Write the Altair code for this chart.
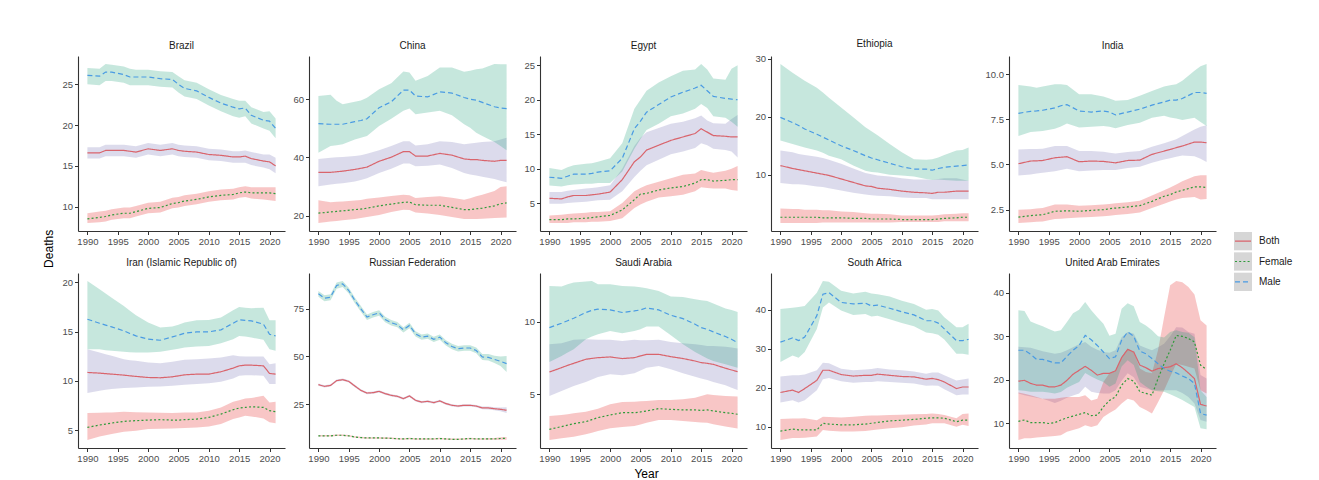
import altair as alt
import pandas as pd

YEARS_G = [1990, 1992, 1993, 1994, 1996, 1997, 1998, 2000, 2002, 2004, 2005,
           2006, 2008, 2010, 2012, 2014, 2015, 2016, 2017, 2019, 2020, 2021]
YEARS_ALL = list(range(1990, 2022))
SEXES = ["Both", "Female", "Male"]
X_TICKS = [1990, 1995, 2000, 2005, 2010, 2015, 2020]

# ---------------- Brazil ----------------
BRA_M = [26.1, 26.0, 26.5, 26.5, 26.2, 25.9, 25.9, 25.9, 25.7, 25.6, 25.0, 24.5, 24.2, 23.4, 22.7, 22.2, 22.0, 22.1, 21.2, 20.6, 20.5, 19.6]
BRA_M_HI = [27.0, 26.9, 27.5, 27.4, 27.2, 26.9, 26.8, 26.8, 26.6, 26.5, 26.0, 25.5, 25.2, 24.4, 23.7, 23.2, 23.0, 23.0, 22.2, 21.6, 21.7, 20.8]
BRA_M_LO = [25.0, 24.9, 25.4, 25.4, 25.2, 24.9, 24.9, 24.9, 24.7, 24.6, 24.0, 23.5, 23.2, 22.4, 21.7, 21.1, 20.9, 21.1, 20.2, 19.6, 19.3, 18.4]
BRA_B = [16.6, 16.6, 16.9, 16.9, 16.9, 16.8, 16.7, 17.1, 16.9, 17.1, 16.9, 16.8, 16.7, 16.4, 16.3, 16.1, 16.1, 16.2, 15.9, 15.6, 15.5, 15.0]
BRA_B_HI = [17.3, 17.3, 17.6, 17.6, 17.6, 17.5, 17.4, 17.8, 17.6, 17.8, 17.6, 17.5, 17.4, 17.1, 17.0, 16.8, 16.8, 16.9, 16.7, 16.4, 16.4, 16.0]
BRA_B_LO = [15.9, 15.9, 16.2, 16.2, 16.2, 16.1, 16.0, 16.4, 16.2, 16.4, 16.2, 16.1, 16.0, 15.7, 15.6, 15.4, 15.4, 15.4, 15.1, 14.8, 14.6, 14.1]
BRA_F = [8.5, 8.7, 8.8, 9.0, 9.2, 9.2, 9.4, 9.8, 9.9, 10.4, 10.5, 10.7, 10.9, 11.2, 11.4, 11.5, 11.7, 11.8, 11.7, 11.7, 11.7, 11.6]
BRA_F_HI = [9.2, 9.4, 9.5, 9.7, 9.9, 9.9, 10.1, 10.5, 10.6, 11.1, 11.2, 11.4, 11.6, 11.9, 12.1, 12.2, 12.4, 12.5, 12.4, 12.4, 12.4, 12.4]
BRA_F_LO = [8.0, 8.1, 8.2, 8.4, 8.6, 8.6, 8.8, 9.2, 9.3, 9.8, 9.9, 10.1, 10.3, 10.6, 10.8, 10.9, 11.1, 11.2, 11.0, 10.9, 10.8, 10.7]

# ---------------- China ----------------
CHN_M = [51.6, 51.4, 51.4, 51.4, 52.3, 52.7, 53.3, 57.1, 59.1, 63.1, 63.1, 61.1, 60.8, 62.5, 62.1, 60.6, 60.0, 59.7, 58.9, 57.4, 57.0, 56.8]
CHN_M_HI = [61.1, 61.5, 59.5, 58.3, 59.1, 59.6, 60.5, 63.4, 65.5, 69.5, 69.2, 66.3, 68.0, 70.9, 70.9, 69.4, 69.8, 70.3, 70.5, 72.1, 72.0, 72.0]
CHN_M_LO = [41.6, 43.9, 44.2, 44.5, 46.2, 46.8, 47.4, 50.8, 53.3, 56.0, 56.8, 54.8, 55.4, 56.0, 54.5, 51.4, 50.2, 48.5, 47.4, 45.3, 43.9, 42.5]
CHN_B = [34.9, 34.9, 35.1, 35.3, 35.9, 36.3, 36.7, 38.7, 40.1, 42.0, 42.0, 40.5, 40.5, 41.4, 40.8, 39.5, 39.3, 39.3, 39.0, 38.7, 39.0, 39.0]
CHN_B_HI = [39.5, 39.9, 40.1, 40.2, 40.5, 40.8, 41.3, 42.5, 43.9, 45.6, 45.6, 44.1, 44.5, 45.6, 45.3, 44.5, 44.8, 45.1, 45.3, 45.6, 46.2, 46.8]
CHN_B_LO = [30.1, 30.7, 31.0, 31.2, 31.8, 32.3, 32.9, 34.7, 36.1, 37.9, 37.9, 37.0, 37.2, 37.6, 36.4, 34.7, 34.2, 33.8, 33.4, 32.6, 32.0, 31.5]
CHN_F = [20.9, 21.3, 21.5, 21.7, 22.1, 22.3, 22.6, 23.4, 24.0, 24.6, 24.7, 23.8, 23.6, 23.6, 22.9, 22.1, 22.1, 22.4, 22.6, 23.4, 24.1, 24.4]
CHN_F_HI = [25.3, 24.6, 24.8, 24.9, 25.2, 25.4, 25.8, 26.3, 26.8, 27.2, 27.0, 26.1, 26.4, 26.7, 26.2, 25.5, 26.0, 26.7, 27.2, 28.5, 29.9, 30.1]
CHN_F_LO = [17.5, 18.0, 18.2, 18.5, 18.9, 19.2, 19.6, 20.3, 21.3, 22.1, 22.0, 21.1, 20.8, 20.3, 19.6, 18.9, 18.9, 18.9, 19.0, 19.2, 19.3, 19.4]

# ---------------- Egypt ----------------
EGY_M = [8.75, 8.6, 8.9, 9.2, 9.2, 9.3, 9.5, 9.7, 11.5, 15.8, 16.9, 18.2, 19.3, 20.4, 21.1, 21.7, 22.1, 21.3, 20.5, 20.2, 20.1, 20.0]
EGY_M_HI = [10.1, 9.8, 10.2, 10.5, 10.7, 10.8, 11.0, 11.5, 13.7, 18.7, 20.0, 21.3, 22.5, 23.4, 24.2, 24.4, 25.2, 24.4, 23.1, 22.9, 24.5, 25.0]
EGY_M_LO = [7.55, 7.4, 7.6, 7.7, 7.8, 7.8, 7.9, 7.9, 9.6, 12.9, 14.3, 15.6, 16.5, 17.6, 18.0, 18.7, 19.4, 18.8, 17.6, 17.4, 16.8, 16.1]
EGY_B = [5.7, 5.6, 5.9, 6.1, 6.1, 6.2, 6.3, 6.6, 8.4, 11.0, 11.7, 12.7, 13.4, 14.1, 14.6, 15.1, 15.8, 15.3, 14.8, 14.7, 14.6, 14.6]
EGY_B_HI = [6.6, 6.6, 6.8, 6.9, 7.1, 7.2, 7.3, 7.6, 10.0, 13.3, 14.5, 15.3, 15.9, 16.5, 16.8, 17.3, 17.7, 17.0, 16.6, 16.5, 17.2, 17.8]
EGY_B_LO = [4.9, 4.9, 5.0, 5.1, 5.2, 5.3, 5.4, 5.5, 6.7, 8.8, 9.7, 10.5, 11.3, 12.1, 12.5, 13.0, 13.7, 13.4, 12.9, 12.7, 12.5, 11.6]
EGY_F = [2.6, 2.6, 2.7, 2.7, 2.8, 2.9, 3.0, 3.2, 4.0, 5.5, 6.3, 6.4, 6.9, 7.2, 7.4, 7.9, 8.4, 8.4, 8.2, 8.3, 8.4, 8.4]
EGY_F_HI = [3.2, 3.3, 3.4, 3.5, 3.6, 3.7, 3.7, 3.8, 5.0, 6.7, 7.2, 7.6, 8.1, 8.6, 9.1, 9.3, 9.8, 9.6, 9.4, 9.7, 10.0, 10.4]
EGY_F_LO = [2.1, 2.1, 2.1, 2.2, 2.2, 2.3, 2.3, 2.4, 2.8, 4.3, 4.8, 5.2, 5.8, 6.0, 6.2, 6.7, 7.3, 7.2, 7.1, 7.1, 6.9, 6.8]

# ---------------- Ethiopia ----------------
ETH_M = [19.9, 19.0, 18.5, 17.9, 17.0, 16.5, 16.0, 15.0, 14.2, 13.3, 12.9, 12.6, 12.0, 11.4, 11.0, 11.0, 10.8, 11.1, 11.3, 11.5, 11.6, 11.7]
ETH_M_HI = [29.1, 27.6, 26.9, 26.2, 25.0, 24.2, 23.3, 21.6, 19.9, 18.2, 17.5, 16.8, 15.3, 13.9, 12.7, 12.6, 12.7, 13.0, 13.4, 14.2, 14.3, 14.7]
ETH_M_LO = [15.9, 15.3, 15.0, 14.7, 14.2, 13.8, 13.3, 12.7, 11.6, 10.7, 10.5, 10.4, 10.0, 9.9, 9.7, 9.3, 9.1, 9.2, 9.1, 9.0, 9.0, 9.0]
ETH_B = [11.6, 11.1, 10.9, 10.7, 10.3, 10.1, 9.9, 9.3, 8.7, 8.1, 8.0, 7.7, 7.5, 7.2, 7.0, 6.9, 6.8, 7.0, 7.0, 7.2, 7.2, 7.2]
ETH_B_HI = [14.2, 13.9, 13.6, 13.4, 13.1, 12.9, 12.6, 11.9, 11.1, 10.3, 10.1, 9.9, 9.7, 9.4, 9.2, 9.2, 9.1, 9.3, 9.4, 9.4, 9.2, 9.0]
ETH_B_LO = [8.6, 8.4, 8.4, 8.3, 8.0, 7.9, 7.7, 7.3, 6.9, 6.6, 6.5, 6.4, 6.3, 6.1, 6.0, 6.0, 5.8, 5.8, 5.8, 5.8, 5.8, 5.8]
ETH_F = [2.7, 2.7, 2.7, 2.7, 2.7, 2.6, 2.6, 2.6, 2.5, 2.5, 2.4, 2.4, 2.4, 2.3, 2.3, 2.3, 2.3, 2.4, 2.5, 2.6, 2.7, 2.7]
ETH_F_HI = [4.2, 4.1, 4.1, 4.0, 4.0, 3.9, 3.9, 3.7, 3.6, 3.4, 3.3, 3.3, 3.2, 3.0, 3.0, 3.0, 3.0, 3.1, 3.2, 3.3, 3.4, 3.4]
ETH_F_LO = [1.7, 1.7, 1.7, 1.7, 1.7, 1.8, 1.8, 1.8, 1.8, 1.8, 1.8, 1.8, 1.8, 1.9, 1.9, 1.9, 1.9, 1.9, 2.0, 2.0, 2.0, 2.0]

# ---------------- India ----------------
IND_M = [7.83, 7.94, 7.96, 8.0, 8.13, 8.25, 8.31, 7.96, 7.9, 7.96, 7.9, 7.74, 7.9, 8.06, 8.28, 8.46, 8.56, 8.56, 8.65, 8.98, 8.98, 8.93]
IND_M_HI = [9.39, 9.31, 9.25, 9.31, 9.44, 9.44, 9.39, 8.89, 8.89, 8.76, 8.65, 8.52, 8.57, 8.8, 9.07, 9.31, 9.38, 9.44, 9.63, 10.19, 10.43, 10.56]
IND_M_LO = [6.57, 6.8, 6.82, 6.85, 6.98, 7.1, 7.26, 7.04, 7.09, 7.13, 7.08, 7.0, 7.19, 7.31, 7.59, 7.69, 7.6, 7.54, 7.46, 7.59, 7.35, 7.13]
IND_B = [5.04, 5.19, 5.2, 5.22, 5.37, 5.4, 5.43, 5.15, 5.19, 5.17, 5.13, 5.09, 5.22, 5.24, 5.56, 5.74, 5.83, 5.93, 6.02, 6.24, 6.24, 6.2]
IND_B_HI = [5.83, 5.85, 5.86, 5.87, 6.02, 6.02, 6.02, 5.74, 5.74, 5.7, 5.65, 5.61, 5.69, 5.74, 5.98, 6.17, 6.28, 6.39, 6.57, 6.94, 7.09, 7.17]
IND_B_LO = [4.39, 4.45, 4.5, 4.54, 4.63, 4.7, 4.76, 4.63, 4.66, 4.69, 4.69, 4.69, 4.81, 4.87, 5.09, 5.28, 5.35, 5.43, 5.5, 5.46, 5.31, 5.13]
IND_F = [2.09, 2.17, 2.2, 2.22, 2.41, 2.42, 2.44, 2.41, 2.46, 2.5, 2.55, 2.59, 2.65, 2.72, 2.96, 3.24, 3.33, 3.48, 3.57, 3.76, 3.76, 3.72]
IND_F_HI = [2.5, 2.53, 2.56, 2.59, 2.78, 2.78, 2.78, 2.72, 2.75, 2.78, 2.82, 2.86, 2.91, 3.0, 3.28, 3.57, 3.73, 3.89, 4.07, 4.35, 4.41, 4.41]
IND_F_LO = [1.76, 1.8, 1.83, 1.85, 1.98, 2.0, 2.02, 2.07, 2.1, 2.13, 2.17, 2.2, 2.26, 2.35, 2.59, 2.83, 2.95, 3.06, 3.15, 3.2, 3.06, 3.09]

# ---------------- Iran ----------------
IRN_M = [16.25, 15.84, 15.65, 15.47, 15.07, 14.8, 14.56, 14.23, 14.12, 14.46, 14.63, 14.83, 14.97, 14.97, 15.17, 15.84, 16.18, 16.14, 16.08, 15.74, 14.73, 14.56]
IRN_M_HI = [20.12, 19.28, 18.85, 18.43, 17.59, 17.1, 16.65, 15.91, 15.4, 15.5, 15.7, 15.91, 16.14, 16.18, 16.41, 17.15, 17.49, 17.42, 17.36, 17.42, 16.14, 16.14]
IRN_M_LO = [13.22, 13.22, 13.1, 13.05, 12.95, 12.9, 12.88, 12.88, 12.95, 13.15, 13.25, 13.38, 13.48, 13.55, 13.82, 14.23, 14.56, 14.49, 14.39, 14.16, 13.22, 13.05]
IRN_B = [10.86, 10.79, 10.74, 10.69, 10.59, 10.52, 10.46, 10.35, 10.32, 10.42, 10.52, 10.62, 10.69, 10.69, 10.93, 11.3, 11.53, 11.6, 11.6, 11.53, 10.76, 10.69]
IRN_B_HI = [13.22, 12.88, 12.7, 12.54, 12.2, 12.1, 12.04, 11.87, 11.8, 11.94, 12.04, 12.14, 12.2, 12.27, 12.37, 12.6, 12.5, 12.47, 12.47, 12.47, 11.7, 11.8]
IRN_B_LO = [8.77, 9.01, 9.1, 9.18, 9.28, 9.3, 9.34, 9.41, 9.44, 9.51, 9.56, 9.61, 9.68, 9.78, 9.92, 10.25, 10.52, 10.59, 10.59, 10.52, 9.68, 9.68]
IRN_F = [5.3, 5.54, 5.64, 5.74, 5.91, 5.95, 5.98, 6.04, 6.08, 6.04, 6.04, 6.08, 6.14, 6.31, 6.65, 7.09, 7.26, 7.32, 7.39, 7.32, 6.99, 6.89]
IRN_F_HI = [6.75, 6.78, 6.8, 6.82, 6.89, 6.86, 6.84, 6.82, 6.78, 6.75, 6.78, 6.8, 6.82, 6.99, 7.32, 7.9, 8.06, 8.23, 8.27, 8.5, 7.83, 7.9]
IRN_F_LO = [4.02, 4.39, 4.5, 4.63, 4.87, 4.92, 4.97, 5.13, 5.17, 5.2, 5.22, 5.25, 5.3, 5.4, 5.64, 6.14, 6.31, 6.48, 6.41, 6.21, 5.81, 5.71]

# ---------------- Russian Federation (every year) ----------------
RUS_M = [82.8, 80.5, 81.0, 87.1, 88.0, 84.5, 79.3, 74.9, 70.6, 71.8, 72.8, 69.3, 67.6, 66.6, 63.9, 66.2, 61.8, 60.1, 60.6, 58.9, 60.1, 57.1, 55.2, 54.0, 54.4, 54.4, 53.1, 49.7, 49.5, 48.4, 47.4, 46.2]
RUS_M_HI = [84.3, 82.0, 82.5, 88.7, 89.5, 86.0, 80.8, 76.4, 72.0, 73.2, 74.2, 70.7, 69.0, 68.0, 65.3, 67.6, 63.2, 61.5, 62.0, 60.3, 61.5, 58.5, 56.6, 55.4, 55.8, 55.9, 54.6, 51.3, 51.2, 50.4, 49.9, 50.2]
RUS_M_LO = [81.2, 78.9, 79.4, 85.4, 86.4, 82.9, 77.8, 73.4, 69.1, 70.3, 71.3, 67.9, 66.2, 65.2, 62.5, 64.8, 60.4, 58.7, 59.2, 57.5, 58.7, 55.7, 53.8, 52.6, 53.0, 52.9, 51.6, 48.1, 47.8, 46.5, 45.0, 41.8]
RUS_B = [35.2, 34.3, 34.8, 37.3, 37.8, 36.9, 34.5, 32.2, 30.8, 31.0, 31.7, 30.5, 29.6, 29.1, 27.9, 29.3, 27.0, 26.1, 26.5, 25.8, 26.7, 25.3, 24.4, 24.0, 24.4, 24.4, 24.0, 23.0, 23.0, 22.6, 22.3, 21.8]
RUS_B_HI = [35.8, 34.9, 35.4, 37.9, 38.4, 37.5, 35.1, 32.8, 31.4, 31.6, 32.3, 31.1, 30.2, 29.7, 28.5, 29.9, 27.6, 26.7, 27.1, 26.4, 27.3, 25.9, 25.0, 24.6, 25.0, 25.0, 24.6, 23.7, 23.7, 23.4, 23.3, 23.4]
RUS_B_LO = [34.6, 33.7, 34.2, 36.7, 37.2, 36.3, 33.9, 31.6, 30.2, 30.4, 31.1, 29.9, 29.0, 28.5, 27.3, 28.7, 26.4, 25.5, 25.9, 25.2, 26.1, 24.7, 23.8, 23.4, 23.8, 23.8, 23.4, 22.3, 22.2, 21.8, 21.3, 20.3]
RUS_F = [8.4, 8.4, 8.4, 8.7, 8.7, 8.4, 7.8, 7.5, 7.3, 7.3, 7.3, 7.2, 7.1, 6.9, 6.8, 7.0, 6.8, 6.8, 6.8, 6.8, 7.0, 6.8, 6.6, 6.6, 6.8, 7.0, 6.8, 6.8, 6.8, 6.8, 7.0, 7.1]
RUS_F_HI = [8.8, 8.8, 8.8, 9.1, 9.1, 8.8, 8.2, 7.9, 7.7, 7.7, 7.7, 7.6, 7.5, 7.3, 7.2, 7.4, 7.2, 7.2, 7.2, 7.2, 7.4, 7.2, 7.0, 7.0, 7.2, 7.4, 7.2, 7.2, 7.3, 7.3, 7.6, 7.8]
RUS_F_LO = [8.0, 8.0, 8.0, 8.3, 8.3, 8.0, 7.4, 7.1, 6.9, 6.9, 6.9, 6.8, 6.7, 6.5, 6.4, 6.6, 6.4, 6.4, 6.4, 6.4, 6.6, 6.4, 6.2, 6.2, 6.4, 6.6, 6.4, 6.4, 6.3, 6.3, 6.4, 6.4]

# ---------------- Saudi Arabia ----------------
SAU_M = [9.61, 9.91, 10.08, 10.25, 10.65, 10.8, 10.88, 10.83, 10.65, 10.76, 10.83, 10.97, 10.83, 10.46, 10.23, 9.84, 9.61, 9.49, 9.31, 8.99, 8.8, 8.57]
SAU_M_HI = [12.49, 12.44, 12.6, 12.72, 12.79, 12.83, 12.6, 12.6, 12.49, 12.44, 12.4, 12.33, 12.14, 11.75, 11.73, 11.57, 11.5, 11.45, 11.27, 10.92, 10.83, 10.69]
SAU_M_LO = [7.24, 7.65, 7.88, 8.11, 8.8, 9.0, 9.15, 9.38, 9.22, 9.38, 9.5, 9.68, 9.68, 9.08, 8.46, 7.93, 7.7, 7.47, 7.3, 7.07, 6.96, 6.84]
SAU_B = [6.54, 6.84, 7.0, 7.14, 7.42, 7.48, 7.53, 7.58, 7.47, 7.53, 7.65, 7.76, 7.76, 7.6, 7.47, 7.3, 7.19, 7.14, 7.07, 6.8, 6.68, 6.57]
SAU_B_HI = [8.46, 8.53, 8.65, 8.76, 8.8, 8.78, 8.76, 8.76, 8.69, 8.76, 8.74, 8.73, 8.76, 8.62, 8.53, 8.46, 8.4, 8.34, 8.34, 8.29, 8.23, 8.16]
SAU_B_LO = [4.88, 5.23, 5.4, 5.58, 5.85, 6.03, 6.2, 6.38, 6.31, 6.45, 6.65, 6.84, 6.96, 6.73, 6.45, 6.22, 6.1, 5.99, 5.85, 5.62, 5.46, 5.3]
SAU_F = [2.58, 2.77, 2.87, 2.97, 3.11, 3.25, 3.39, 3.57, 3.73, 3.73, 3.78, 3.85, 4.01, 3.96, 3.92, 3.92, 3.89, 3.92, 3.85, 3.73, 3.69, 3.62]
SAU_F_HI = [3.5, 3.57, 3.63, 3.69, 3.8, 3.9, 4.01, 4.31, 4.47, 4.49, 4.52, 4.54, 4.61, 4.61, 4.65, 4.77, 4.88, 5.0, 4.95, 4.88, 4.86, 4.84]
SAU_F_LO = [1.84, 1.96, 2.01, 2.07, 2.24, 2.35, 2.47, 2.65, 2.74, 2.81, 2.92, 3.04, 3.23, 3.23, 3.16, 3.09, 3.06, 3.04, 2.93, 2.77, 2.7, 2.63]

# ---------------- South Africa ----------------
ZAF_M = [31.7, 32.8, 32.1, 33.0, 38.5, 44.0, 44.4, 41.9, 41.5, 41.7, 41.0, 41.2, 40.4, 39.5, 38.7, 37.2, 37.2, 36.6, 35.1, 32.1, 32.1, 32.4]
ZAF_M_HI = [40.2, 40.5, 40.7, 41.0, 44.4, 47.4, 47.2, 44.9, 44.2, 44.6, 44.2, 44.0, 43.4, 42.3, 41.5, 40.0, 40.2, 39.8, 38.1, 35.5, 35.5, 36.4]
ZAF_M_LO = [26.6, 28.3, 27.7, 29.2, 35.1, 40.6, 41.9, 39.8, 38.7, 38.9, 38.3, 38.5, 37.6, 36.6, 35.8, 34.2, 34.0, 33.6, 32.4, 28.7, 28.7, 28.5]
ZAF_B = [18.8, 19.4, 18.8, 19.8, 21.9, 24.5, 24.5, 23.4, 23.0, 23.2, 23.2, 23.5, 23.2, 22.9, 22.8, 22.2, 22.4, 22.1, 21.5, 19.8, 20.2, 20.2]
ZAF_B_HI = [22.9, 23.2, 23.2, 23.4, 24.5, 26.4, 26.3, 24.9, 24.5, 24.7, 24.8, 25.1, 24.7, 24.5, 24.2, 23.6, 23.9, 23.9, 23.2, 21.9, 22.1, 22.4]
ZAF_B_LO = [16.2, 16.8, 16.2, 16.8, 19.4, 22.2, 22.5, 21.7, 21.3, 21.5, 21.5, 21.7, 21.5, 21.3, 21.1, 20.5, 20.6, 20.5, 19.6, 18.1, 18.3, 18.3]
ZAF_F = [8.9, 9.4, 9.2, 9.2, 9.2, 10.9, 10.7, 10.5, 10.5, 10.7, 10.9, 11.1, 11.5, 11.7, 11.9, 12.2, 12.3, 12.3, 12.2, 11.3, 11.7, 11.7]
ZAF_F_HI = [12.0, 12.1, 12.1, 12.2, 11.7, 12.6, 12.5, 12.4, 12.6, 12.8, 12.9, 12.9, 13.0, 13.1, 13.2, 13.3, 13.4, 13.3, 13.0, 12.2, 13.3, 13.4]
ZAF_F_LO = [6.6, 7.1, 7.1, 7.2, 7.5, 9.2, 9.0, 8.8, 8.8, 8.9, 9.1, 9.3, 9.6, 9.9, 10.3, 10.6, 10.9, 10.9, 10.9, 10.0, 10.5, 10.2]

# ---------------- United Arab Emirates (every year) ----------------
ARE_B = [19.7, 19.9, 19.2, 18.8, 18.8, 18.4, 18.4, 18.8, 19.9, 21.3, 22.2, 23.1, 22.2, 21.1, 21.5, 21.5, 22.1, 25.1, 27.0, 26.4, 23.4, 22.8, 22.0, 22.6, 22.8, 23.0, 23.7, 22.8, 21.6, 20.3, 14.4, 14.0]
ARE_B_HI = [27.6, 27.5, 27.4, 27.0, 26.6, 26.3, 26.0, 26.2, 26.8, 27.5, 28.2, 28.7, 27.6, 26.9, 26.4, 26.2, 26.8, 29.8, 31.0, 30.6, 27.9, 27.3, 26.8, 27.5, 28.3, 30.0, 32.1, 32.0, 31.0, 30.6, 21.1, 20.3]
ARE_B_LO = [16.9, 16.5, 16.2, 15.9, 15.7, 15.2, 14.7, 15.2, 15.9, 16.4, 16.9, 18.4, 17.3, 17.0, 16.9, 16.9, 17.6, 19.8, 21.5, 20.6, 18.4, 18.0, 17.6, 17.6, 17.6, 17.6, 17.6, 17.0, 16.1, 14.6, 10.8, 10.4]
ARE_M = [26.8, 26.8, 25.9, 24.7, 24.7, 24.3, 23.9, 23.9, 25.4, 26.8, 27.9, 30.2, 29.2, 27.9, 26.4, 24.9, 25.3, 29.1, 31.0, 30.0, 26.6, 26.0, 24.9, 23.7, 22.6, 22.0, 21.6, 20.9, 20.3, 19.2, 12.3, 11.9]
ARE_M_HI = [36.0, 35.8, 33.4, 32.8, 32.3, 31.7, 31.1, 31.4, 33.3, 35.3, 36.1, 37.9, 36.0, 34.4, 32.9, 30.1, 30.6, 36.3, 37.6, 36.9, 33.3, 32.5, 31.4, 30.0, 29.7, 31.0, 31.4, 31.0, 30.8, 29.8, 17.6, 16.1]
ARE_M_LO = [17.6, 17.5, 17.3, 17.3, 17.3, 17.1, 16.9, 17.2, 18.2, 18.9, 19.5, 21.6, 20.8, 20.1, 19.5, 18.4, 19.2, 23.1, 24.5, 23.4, 19.5, 18.5, 17.6, 17.4, 17.3, 16.7, 16.1, 15.4, 14.6, 13.8, 8.9, 8.7]
ARE_F = [10.5, 10.8, 10.2, 10.2, 10.2, 10.0, 10.2, 10.8, 11.3, 11.7, 12.1, 12.5, 11.8, 11.9, 13.8, 15.3, 16.1, 18.8, 20.3, 19.7, 17.3, 16.9, 16.5, 20.3, 23.7, 26.8, 30.2, 30.0, 29.5, 28.7, 23.4, 22.4]
ARE_F_HI = [17.1, 16.8, 16.5, 16.1, 15.7, 15.7, 15.7, 15.9, 16.1, 16.1, 16.1, 16.5, 15.3, 15.7, 19.5, 21.5, 22.1, 25.3, 27.2, 26.4, 22.6, 21.8, 21.5, 26.8, 34.4, 41.7, 42.7, 42.4, 41.3, 39.6, 33.7, 32.5]
ARE_F_LO = [6.2, 6.6, 6.6, 6.8, 6.9, 7.0, 7.1, 7.3, 8.1, 8.5, 8.9, 9.6, 9.2, 9.6, 11.5, 12.4, 13.2, 14.6, 15.7, 15.3, 13.8, 13.1, 12.3, 14.9, 17.6, 20.7, 23.7, 23.4, 23.0, 22.6, 17.6, 16.9]

PANELS = [
    ("Brazil", YEARS_G, (BRA_B, BRA_B_LO, BRA_B_HI), (BRA_F, BRA_F_LO, BRA_F_HI), (BRA_M, BRA_M_LO, BRA_M_HI), [10, 15, 20, 25], "d"),
    ("China", YEARS_G, (CHN_B, CHN_B_LO, CHN_B_HI), (CHN_F, CHN_F_LO, CHN_F_HI), (CHN_M, CHN_M_LO, CHN_M_HI), [20, 40, 60], "d"),
    ("Egypt", YEARS_G, (EGY_B, EGY_B_LO, EGY_B_HI), (EGY_F, EGY_F_LO, EGY_F_HI), (EGY_M, EGY_M_LO, EGY_M_HI), [5, 10, 15, 20, 25], "d"),
    ("Ethiopia", YEARS_G, (ETH_B, ETH_B_LO, ETH_B_HI), (ETH_F, ETH_F_LO, ETH_F_HI), (ETH_M, ETH_M_LO, ETH_M_HI), [10, 20, 30], "d"),
    ("India", YEARS_G, (IND_B, IND_B_LO, IND_B_HI), (IND_F, IND_F_LO, IND_F_HI), (IND_M, IND_M_LO, IND_M_HI), [2.5, 5.0, 7.5, 10.0], ".1f"),
    ("Iran (Islamic Republic of)", YEARS_G, (IRN_B, IRN_B_LO, IRN_B_HI), (IRN_F, IRN_F_LO, IRN_F_HI), (IRN_M, IRN_M_LO, IRN_M_HI), [5, 10, 15, 20], "d"),
    ("Russian Federation", YEARS_ALL, (RUS_B, RUS_B_LO, RUS_B_HI), (RUS_F, RUS_F_LO, RUS_F_HI), (RUS_M, RUS_M_LO, RUS_M_HI), [25, 50, 75], "d"),
    ("Saudi Arabia", YEARS_G, (SAU_B, SAU_B_LO, SAU_B_HI), (SAU_F, SAU_F_LO, SAU_F_HI), (SAU_M, SAU_M_LO, SAU_M_HI), [5, 10], "d"),
    ("South Africa", YEARS_G, (ZAF_B, ZAF_B_LO, ZAF_B_HI), (ZAF_F, ZAF_F_LO, ZAF_F_HI), (ZAF_M, ZAF_M_LO, ZAF_M_HI), [10, 20, 30, 40], "d"),
    ("United Arab Emirates", YEARS_ALL, (ARE_B, ARE_B_LO, ARE_B_HI), (ARE_F, ARE_F_LO, ARE_F_HI), (ARE_M, ARE_M_LO, ARE_M_HI), [10, 20, 30, 40], "d"),
]

FONT = "Liberation Sans"
LINE_COLORS = ["#D9646C", "#2E9B3A", "#4A9BE3"]
BAND_COLORS = ["#7570B3", "#E41A1C", "#1B9E77"]
DASHES = [[1, 0], [2, 2.2], [5, 3]]
PW, PH = 207, 175

stroke_scale = alt.Scale(domain=SEXES, range=LINE_COLORS)
dash_scale = alt.Scale(domain=SEXES, range=DASHES)
fill_scale = alt.Scale(domain=SEXES, range=BAND_COLORS)


def panel(name, years, both, female, male, ticks, fmt, xtitle):
    rows = []
    for sex, (m, lo, hi) in zip(SEXES, [both, female, male]):
        for yr, a, b, c in zip(years, m, lo, hi):
            rows.append({"year": yr, "sex": sex, "val": a, "lo": b, "hi": c})
    df = pd.DataFrame(rows)
    vmin, vmax = df["lo"].min(), df["hi"].max()
    pad = 0.05 * (vmax - vmin)
    yscale = alt.Scale(domain=[vmin - pad, vmax + pad], nice=False, zero=False)
    xscale = alt.Scale(domain=[1990 - 0.05 * 31, 2021 + 0.05 * 31], nice=False, zero=False)
    xaxis = alt.Axis(values=X_TICKS, format="d", title=xtitle if xtitle else None,
                     titleFontSize=12, titleFontWeight="normal", titleColor="#000000",
                     titlePadding=5, titleX=106)
    yaxis = alt.Axis(values=ticks, format=fmt, title=None)
    band = alt.Chart(df).mark_area(opacity=0.25).encode(
        x=alt.X("year:Q", scale=xscale, axis=xaxis),
        y=alt.Y("lo:Q", scale=yscale, axis=yaxis),
        y2="hi:Q",
        fill=alt.Fill("sex:N", scale=fill_scale, legend=None),
    )
    line = alt.Chart(df).mark_line(strokeWidth=1.2).encode(
        x=alt.X("year:Q", scale=xscale, axis=xaxis),
        y=alt.Y("val:Q", scale=yscale, axis=yaxis),
        stroke=alt.Stroke("sex:N", scale=stroke_scale, legend=None),
        strokeDash=alt.StrokeDash("sex:N", scale=dash_scale, legend=None),
    )
    return alt.layer(band, line).properties(
        width=PW, height=PH,
        title=alt.TitleParams(name, fontSize=10, fontWeight="normal", color="#1A1A1A",
                              font=FONT, offset=5),
    )


charts = []
for name, years, b, f, m, ticks, fmt in PANELS:
    charts.append(panel(name, years, b, f, m, ticks, fmt, "Year" if name == "Saudi Arabia" else None))

grid = alt.concat(*charts, columns=5, spacing={"row": 12, "column": 7})

leg_df = pd.DataFrame({"sex": SEXES})
leg_y = alt.Scale(domain=SEXES, range=[176, 235], paddingInner=0.1, paddingOuter=0)
leg_rect = alt.Chart(leg_df).mark_rect(color="#D6D6D6").encode(
    x=alt.value(0), x2=alt.value(18),
    y=alt.Y("sex:N", scale=leg_y, axis=None),
)
leg_line = alt.Chart(leg_df).mark_rule(strokeWidth=1.2).encode(
    x=alt.value(1), x2=alt.value(17),
    y=alt.Y("sex:N", scale=leg_y, axis=None, bandPosition=0.5),
    stroke=alt.Stroke("sex:N", scale=stroke_scale, legend=None),
    strokeDash=alt.StrokeDash("sex:N", scale=dash_scale, legend=None),
)
leg_text = alt.Chart(leg_df).mark_text(align="left", baseline="middle", fontSize=10,
                                       font=FONT, color="#1A1A1A").encode(
    x=alt.value(25),
    y=alt.Y("sex:N", scale=leg_y, axis=None, bandPosition=0.5),
    text="sex:N",
)
legend = alt.layer(leg_rect, leg_line, leg_text).properties(width=60, height=PH * 2)

chart = alt.hconcat(grid, legend, spacing=18).properties(
    title=alt.TitleParams("Deaths", orient="left", anchor="middle", fontSize=12,
                          fontWeight="normal", color="#000000", font=FONT, offset=6, dx=10),
    padding={"left": 34, "top": 30, "right": 5, "bottom": 5},
).configure_view(stroke=None).configure_axis(
    grid=False, domainColor="#333333", tickColor="#333333", domainWidth=1.1,
    tickSize=3.5, labelFontSize=9.5, labelColor="#4D4D4D", labelFont=FONT,
    labelPadding=2, titleFont=FONT,
).configure_scale(bandPaddingInner=0.1)

chart.save("out.html", embed_options={"renderer": "svg", "actions": False})
